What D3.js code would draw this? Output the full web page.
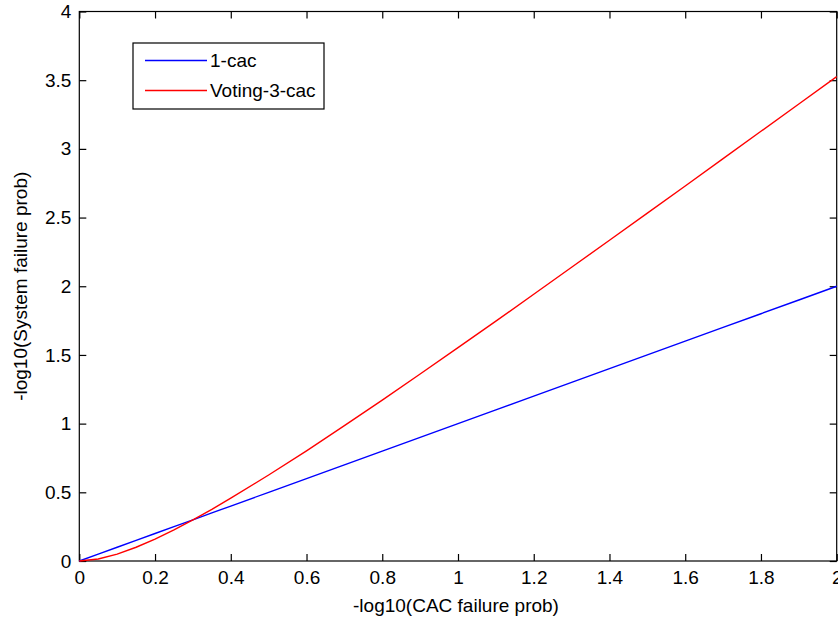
<!DOCTYPE html>
<html>
<head>
<meta charset="utf-8">
<script src="https://cdn.jsdelivr.net/npm/d3@7"></script>
<style>
  html, body { margin: 0; padding: 0; background: #fff; overflow: hidden; }
  svg { display: block; font-family: "Liberation Sans", Arial, Helvetica, sans-serif; }
</style>
</head>
<body>
<svg id="chart" width="838" height="621"></svg>
<script>
// ---- data ----
const xValues = [0, 0.05, 0.1, 0.15, 0.2, 0.25, 0.3, 0.35, 0.4, 0.5, 0.6, 0.7, 0.8, 0.9, 1.0,
                 1.1, 1.2, 1.3, 1.4, 1.5, 1.6, 1.7, 1.8, 1.9, 2.0];
const oneCac = [0, 0.05, 0.10, 0.15, 0.20, 0.25, 0.30, 0.35, 0.40, 0.50, 0.60, 0.70, 0.80, 0.90, 1.00,
                1.10, 1.20, 1.30, 1.40, 1.50, 1.60, 1.70, 1.80, 1.90, 2.00];
const voting3Cac = [0, 0.015, 0.050, 0.100, 0.160, 0.227, 0.300, 0.376, 0.457, 0.626, 0.802, 0.985, 1.171, 1.361, 1.553,
                    1.746, 1.942, 2.138, 2.335, 2.532, 2.730, 2.929, 3.128, 3.327, 3.526];
const seriesNames = ["1-cac", "Voting-3-cac"];
const seriesColors = ["#0000ff", "#ff0000"];
const xTicks = [0, 0.2, 0.4, 0.6, 0.8, 1, 1.2, 1.4, 1.6, 1.8, 2];
const yTicks = [0, 0.5, 1, 1.5, 2, 2.5, 3, 3.5, 4];
const xLabel = "-log10(CAC failure prob)";
const yLabel = "-log10(System failure prob)";

// ---- layout ----
const svg = d3.select("#chart");
const L = 79.3, R = 836.7, T = 11.5, B = 561;
const fontSize = 19;

const x = d3.scaleLinear().domain([0, 2]).range([L, R]);
const y = d3.scaleLinear().domain([0, 4]).range([B, T]);

const fmt = d => String(d);
const tickLen = 7;

function styleAxis(g) {
  g.select(".domain").remove();
  g.selectAll(".tick line").attr("stroke", "#000").attr("stroke-width", 1.2);
  g.selectAll(".tick text").attr("fill", "#000").style("font-size", fontSize + "px")
    .style("font-family", '"Liberation Sans", Arial, Helvetica, sans-serif');
}

svg.append("g").attr("transform", `translate(0,${B})`)
  .call(d3.axisBottom(x).tickValues(xTicks).tickFormat(fmt).tickSizeInner(-tickLen).tickSizeOuter(0).tickPadding(10))
  .call(styleAxis);
svg.append("g").attr("transform", `translate(0,${T})`)
  .call(d3.axisTop(x).tickValues(xTicks).tickFormat("").tickSizeInner(-tickLen).tickSizeOuter(0))
  .call(styleAxis);
svg.append("g").attr("transform", `translate(${L},0)`)
  .call(d3.axisLeft(y).tickValues(yTicks).tickFormat(fmt).tickSizeInner(-tickLen).tickSizeOuter(0).tickPadding(8))
  .call(styleAxis);
svg.append("g").attr("transform", `translate(${R},0)`)
  .call(d3.axisRight(y).tickValues(yTicks).tickFormat("").tickSizeInner(-tickLen).tickSizeOuter(0))
  .call(styleAxis);

// axes box
svg.append("rect").attr("x", L).attr("y", T).attr("width", R - L).attr("height", B - T)
  .attr("fill", "none").attr("stroke", "#000").attr("stroke-width", 1.2);

// ---- lines ----
const line = d3.line().x(d => x(d[0])).y(d => y(d[1]));
const series = [oneCac, voting3Cac];
series.forEach((vals, i) => {
  svg.append("path")
    .datum(xValues.map((xv, j) => [xv, vals[j]]))
    .attr("fill", "none")
    .attr("stroke", seriesColors[i])
    .attr("stroke-width", 1.4)
    .attr("d", line);
});

// ---- axis labels ----
svg.append("text").attr("x", (L + R) / 2 - 2).attr("y", 612)
  .attr("text-anchor", "middle").style("font-size", fontSize + "px").attr("fill", "#000")
  .text(xLabel);
svg.append("text").attr("transform", `translate(27,${(T + B) / 2}) rotate(-90)`)
  .attr("text-anchor", "middle").style("font-size", fontSize + "px").attr("fill", "#000")
  .text(yLabel);

// ---- legend ----
const lg = svg.append("g");
lg.append("rect").attr("x", 133).attr("y", 43).attr("width", 191).attr("height", 66)
  .attr("fill", "#fff").attr("stroke", "#000").attr("stroke-width", 1.2);
const legendY = [60.5, 90.5];
seriesNames.forEach((name, i) => {
  lg.append("line").attr("x1", 145).attr("x2", 207).attr("y1", legendY[i]).attr("y2", legendY[i])
    .attr("stroke", seriesColors[i]).attr("stroke-width", 1.4);
  lg.append("text").attr("x", 210).attr("y", legendY[i]).attr("dy", "0.35em")
    .style("font-size", fontSize + "px").attr("fill", "#000").text(name);
});
</script>
</body>
</html>
